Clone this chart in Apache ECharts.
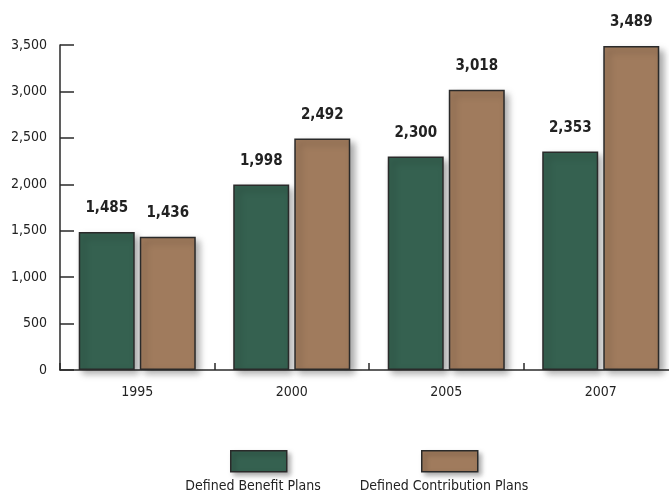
<!DOCTYPE html>
<html><head><meta charset="utf-8">
<script src="https://cdn.jsdelivr.net/npm/echarts@6/dist/echarts.min.js"></script>
<style>html,body{margin:0;padding:0;background:#fff}#c{width:669px;height:494px}</style>
</head><body><div id="c"></div>
<script>
const categories = ['1995', '2000', '2005', '2007'];
const definedBenefit = [1485, 1998, 2300, 2353];
const definedContribution = [1436, 2492, 3018, 3489];
const seriesNames = ['Defined Benefit Plans', 'Defined Contribution Plans'];
const yTicks = [0, 500, 1000, 1500, 2000, 2500, 3000, 3500];

const FONT = '"Liberation Sans Narrow","DejaVu Sans Condensed",sans-serif';
const GREEN = '#356150';
const BROWN = '#a07b5d';

function barStyle(color) {
  return {
    color: color,
    borderColor: '#2a2a2a',
    borderWidth: 1.5,
    shadowColor: 'rgba(0,0,0,0.35)',
    shadowBlur: 7,
    shadowOffsetX: 4,
    shadowOffsetY: 4
  };
}
const labelCfg = {
  show: true, position: 'top', distance: 16,
  fontFamily: FONT, fontWeight: 'bold', fontSize: 15, color: '#222',
  formatter: p => p.value.toLocaleString('en-US')
};
const legendItemStyle = { borderColor: '#2a2a2a', borderWidth: 1.5, shadowColor: 'rgba(0,0,0,0.35)', shadowBlur: 5, shadowOffsetX: 3, shadowOffsetY: 3 };

const chart = echarts.init(document.getElementById('c'));
chart.setOption({
  animation: false,
  grid: { left: 60, top: 45, width: 618, height: 325, containLabel: false, outerBoundsMode: 'none' },
  xAxis: {
    type: 'category', data: categories,
    axisLine: { lineStyle: { color: '#2a2a2a', width: 1.5 } },
    axisTick: { show: true, inside: true, length: 7, lineStyle: { color: '#2a2a2a', width: 1.5 } },
    axisLabel: { fontFamily: FONT, fontSize: 14, color: '#222', margin: 15 }
  },
  yAxis: {
    type: 'value', min: 0, max: 3500, interval: 500,
    splitLine: { show: false },
    axisLine: { show: true, lineStyle: { color: '#2a2a2a', width: 1.5 } },
    axisTick: { show: true, inside: true, length: 14, lineStyle: { color: '#2a2a2a', width: 1.5 } },
    axisLabel: {
      fontFamily: FONT, fontSize: 14, color: '#222', margin: 13,
      formatter: v => yTicks.includes(v) ? v.toLocaleString('en-US') : ''
    }
  },
  legend: [
    { data: [seriesNames[0]], left: 225, top: 445, itemWidth: 56, itemHeight: 21, icon: 'rect',
      itemStyle: legendItemStyle, formatter: () => '', selectedMode: false, itemGap: 0 },
    { data: [seriesNames[1]], left: 416, top: 445, itemWidth: 56, itemHeight: 21, icon: 'rect',
      itemStyle: legendItemStyle, formatter: () => '', selectedMode: false, itemGap: 0 }
  ],
  graphic: [
    { type: 'text', x: 253, y: 486, style: { text: seriesNames[0], fontFamily: FONT, fontSize: 14, fill: '#222', align: 'center', verticalAlign: 'middle' } },
    { type: 'text', x: 444, y: 486, style: { text: seriesNames[1], fontFamily: FONT, fontSize: 14, fill: '#222', align: 'center', verticalAlign: 'middle' } }
  ],
  series: [
    { name: seriesNames[0], type: 'bar', data: definedBenefit, barWidth: 56, barGap: '9%',
      itemStyle: barStyle(GREEN), label: labelCfg },
    { name: seriesNames[1], type: 'bar', data: definedContribution, barWidth: 56, barGap: '9%',
      itemStyle: barStyle(BROWN), label: labelCfg }
  ]
});
</script></body></html>
